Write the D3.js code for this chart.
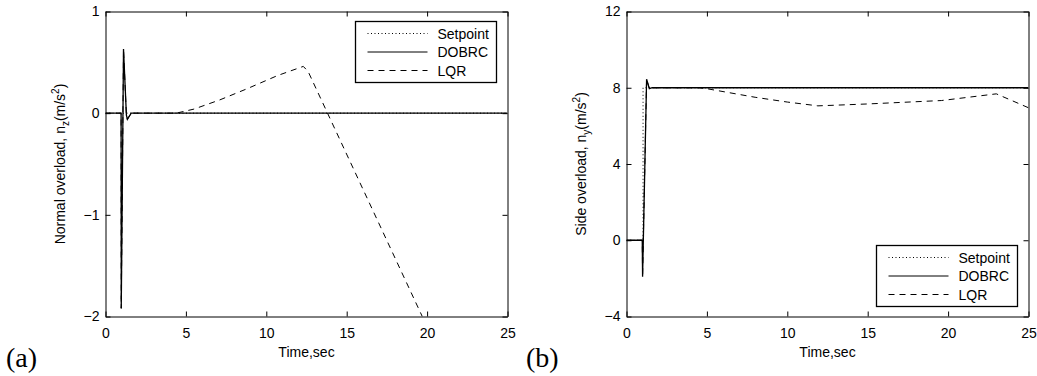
<!DOCTYPE html>
<html>
<head>
<meta charset="utf-8">
<script src="https://cdn.jsdelivr.net/npm/d3@7"></script>
<style>
  body { margin:0; background:#fff; }
  svg text { font-family: "Liberation Sans", Arial, sans-serif; fill:#000; }
  svg text.tag { font-family: "Liberation Serif", "Times New Roman", serif; }
</style>
</head>
<body>
<script>
// time axis shared by both panels
const timeTicks=[0,5,10,15,20,25];
const nzTicks=[-2,-1,0,1];
const nyTicks=[-4,0,4,8,12];
const seriesNames=["Setpoint","DOBRC","LQR"];

// panel (a): normal overload n_z, [time, value]
const nzSetpoint=[[0,0],[25,0]];
const nzDobrc=[[0,0],[0.97,0],[0.98,-1.92],[1.12,0.63],[1.3,-0.02],[1.36,-0.06],[1.6,0],[25,0]];
const nzLqr=[[0,0],[0.97,0],[0.98,-1.92],[1.12,0.63],[1.3,-0.02],[1.36,-0.06],[1.6,0],[4.4,0],[5.5,0.04],[7.1,0.13],[8.8,0.24],[10.7,0.37],[12.3,0.46],[12.6,0.41],[19.7,-2.0]];

// panel (b): side overload n_y
const nySetpoint=[[0,0],[1.03,0],[1.03,8],[25,8]];
const nyDobrc=[[0,0],[0.98,0],[1.0,-1.92],[1.25,8.45],[1.42,7.95],[1.6,8],[25,8]];
const nyLqr=[[0,0],[0.98,0],[1.0,-1.92],[1.25,8.45],[1.42,7.95],[1.6,8],[4.5,8],[5,7.95],[8,7.5],[10,7.25],[11.9,7.05],[15,7.15],[19.6,7.33],[23,7.68],[25,6.95]];

const svg=d3.select('body').append('svg')
  .attr('width',1037).attr('height',376);
svg.append('rect').attr('width',1037).attr('height',376).attr('fill','#fff');

const dashes={Setpoint:'1,2.5',DOBRC:null,LQR:'6,5'};

function drawPanel(p){
  const x=d3.scaleLinear().domain([0,25]).range([p.left,p.right]);
  const y=d3.scaleLinear().domain(p.domain).range([p.bottom,p.top]);
  const g=svg.append('g');

  const clipId='clip'+p.id;
  g.append('clipPath').attr('id',clipId).append('rect')
    .attr('x',p.left).attr('y',p.top).attr('width',p.right-p.left).attr('height',p.bottom-p.top);

  // axes: bottom/left with labels, top/right plain, ticks pointing in
  g.append('g').attr('transform',`translate(0,${p.bottom})`)
    .call(d3.axisBottom(x).tickValues(timeTicks).tickSizeInner(-5).tickSizeOuter(0).tickPadding(12).tickFormat(d3.format('d')));
  g.append('g').attr('transform',`translate(0,${p.top})`)
    .call(d3.axisTop(x).tickValues(timeTicks).tickSizeInner(-5).tickSizeOuter(0).tickFormat(''));
  g.append('g').attr('transform',`translate(${p.left},0)`)
    .call(d3.axisLeft(y).tickValues(p.ticks).tickSizeInner(-5).tickSizeOuter(0).tickPadding(6).tickFormat(d=>d<0?'\u2212'+Math.abs(d):d));
  g.append('g').attr('transform',`translate(${p.right},0)`)
    .call(d3.axisRight(y).tickValues(p.ticks).tickSizeInner(-5).tickSizeOuter(0).tickFormat(''));
  g.selectAll('.tick text').attr('font-size',14).attr('font-family',null);
  g.selectAll('.domain').attr('stroke','#000');
  g.selectAll('.tick line').attr('stroke','#000');

  const line=d3.line().x(d=>x(d[0])).y(d=>y(d[1]));
  const data={Setpoint:p.setpoint,DOBRC:p.dobrc,LQR:p.lqr};
  ['LQR','DOBRC','Setpoint'].forEach(k=>{
    g.append('path').datum(data[k]).attr('d',line)
      .attr('clip-path',`url(#${clipId})`)
      .attr('fill','none').attr('stroke','#000')
      .attr('stroke-width',k==='DOBRC'?1.3:1)
      .attr('stroke-dasharray',dashes[k]);
  });

  // legend
  const lg=g.append('g').attr('transform',`translate(${p.legX},${p.legY})`);
  lg.append('rect').attr('width',141).attr('height',61)
    .attr('fill','#fff').attr('stroke','#000').attr('stroke-width',1.3);
  seriesNames.forEach((n,i)=>{
    const yy=12+i*18.5;
    lg.append('line').attr('x1',12).attr('x2',72).attr('y1',yy).attr('y2',yy)
      .attr('stroke','#000').attr('stroke-width',1)
      .attr('stroke-dasharray',dashes[n]);
    lg.append('text').attr('x',82).attr('y',yy+5).attr('font-size',14).text(n);
  });

  // axis titles
  g.append('text').attr('x',(p.left+p.right)/2).attr('y',357)
    .attr('text-anchor','middle').attr('font-size',14).text('Time,sec');
  const yl=g.append('text')
    .attr('transform',`translate(${p.left-41},${(p.top+p.bottom)/2}) rotate(-90)`)
    .attr('text-anchor','middle').attr('font-size',14);
  yl.append('tspan').text(p.ylab+', n');
  yl.append('tspan').attr('dy',4).attr('font-size',10).text(p.sub);
  yl.append('tspan').attr('dy',-4).text('(m/s');
  yl.append('tspan').attr('dy',-6).attr('font-size',10).text('2');
  yl.append('tspan').attr('dy',6).text(')');

  svg.append('text').attr('class','tag').attr('x',p.tagX).attr('y',367)
    .attr('font-size',28).text(p.tag);
}

drawPanel({id:'a',tag:'(a)',tagX:6,left:105.5,right:507.5,top:11.5,bottom:316.5,domain:[-2,1],ticks:nzTicks,
  setpoint:nzSetpoint,dobrc:nzDobrc,lqr:nzLqr,legX:355.5,legY:21.5,ylab:'Normal overload',sub:'z'});
drawPanel({id:'b',tag:'(b)',tagX:526,left:626.5,right:1028.5,top:11.5,bottom:316.5,domain:[-4,12],ticks:nyTicks,
  setpoint:nySetpoint,dobrc:nyDobrc,lqr:nyLqr,legX:876.5,legY:245.5,ylab:'Side overload',sub:'y'});
</script>
</body>
</html>
